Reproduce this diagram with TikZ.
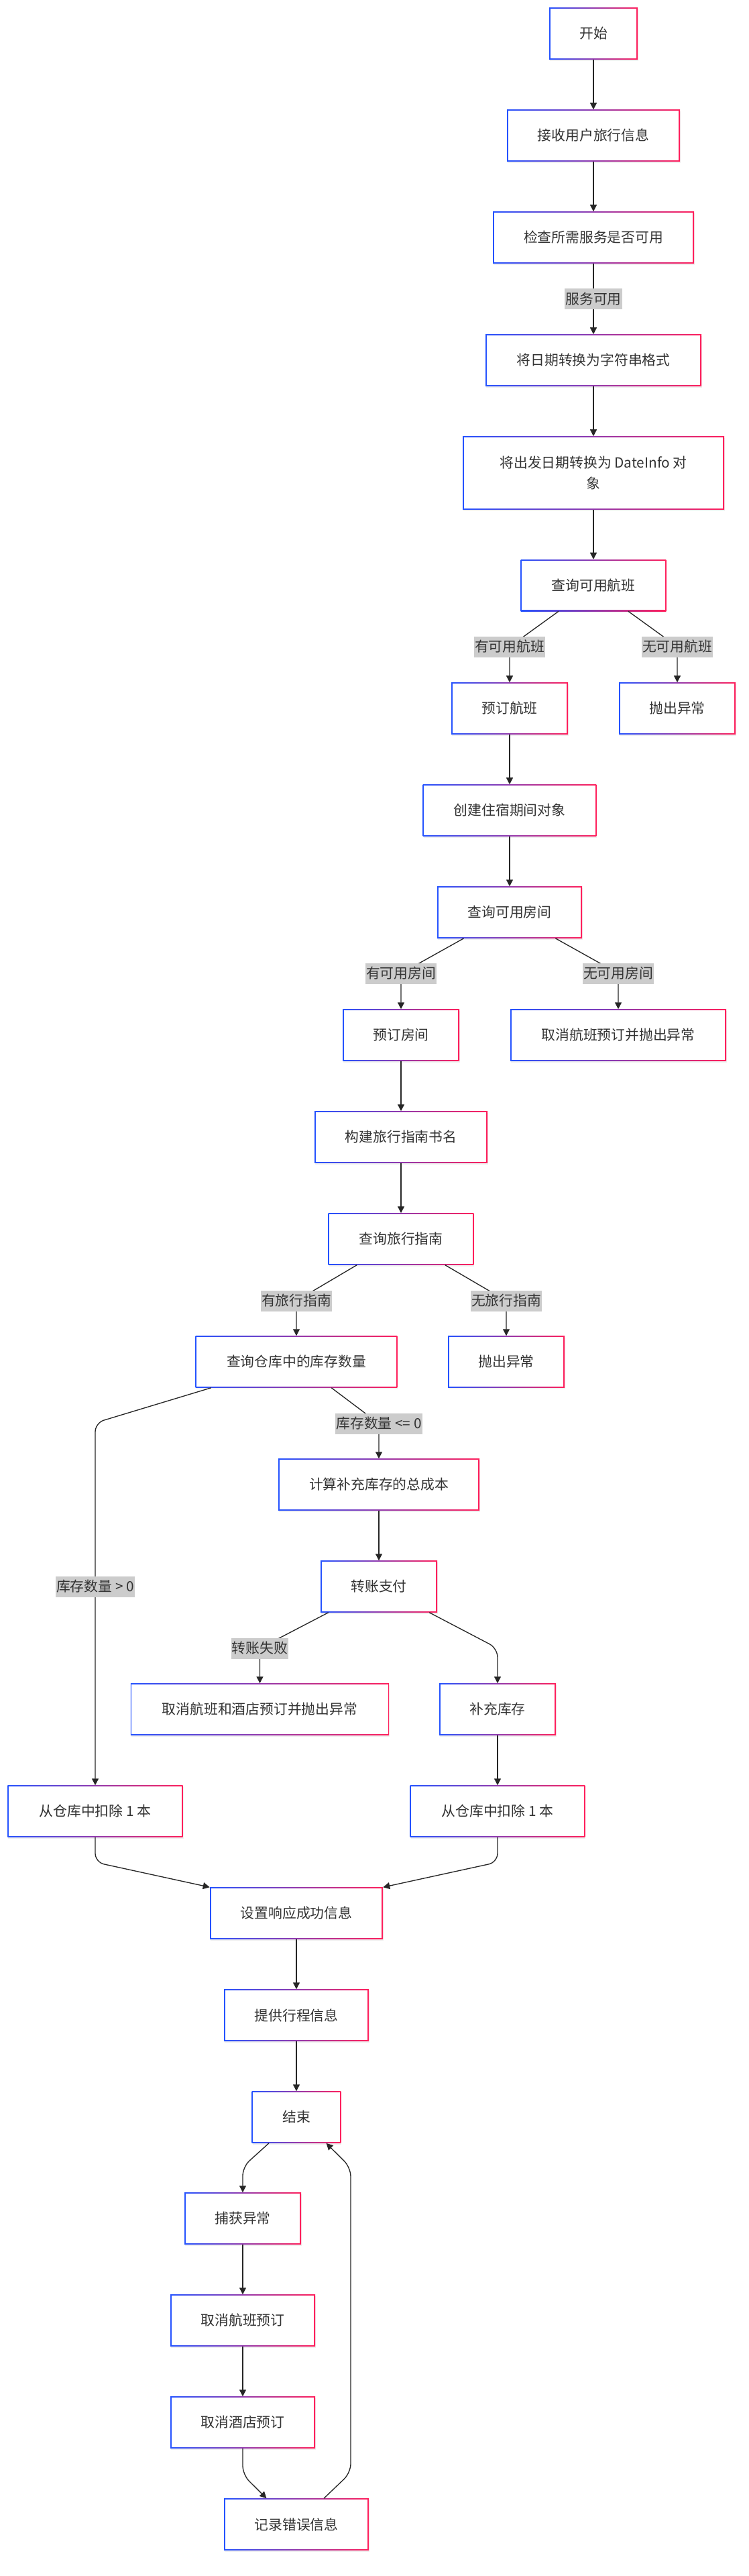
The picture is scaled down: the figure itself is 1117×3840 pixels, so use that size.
\documentclass[tikz,border=0pt]{standalone}
\usepackage{fontspec}
\setmainfont{Noto Sans CJK SC}
\usetikzlibrary{arrows.meta,shadows}
\definecolor{mblue}{HTML}{2452FF}
\definecolor{mred}{HTML}{FF1F5B}
\definecolor{txtgray}{HTML}{333333}
\definecolor{lblgray}{HTML}{CCCCCC}

\begin{document}
\begin{tikzpicture}[x=0.75pt, y=-0.75pt, font=\fontsize{15.6pt}{22.7pt}\selectfont]
    \tikzstyle{stepbox}=[rectangle, inner sep=0pt, minimum height=57.75pt, text=txtgray,
        left color=mblue, right color=mred,
        drop shadow={opacity=0.12, shadow xshift=0.75pt, shadow yshift=-1.5pt},
        path picture={\fill[white] ([shift={(1.2pt,-1.2pt)}]path picture bounding box.north west)
            rectangle ([shift={(-1.2pt,1.2pt)}]path picture bounding box.south east);}]
    \tikzstyle{elabel}=[sharp corners, fill=lblgray, text=txtgray, inner xsep=1pt, inner ysep=0pt, minimum height=23.25pt]
    \tikzstyle{flow}=[draw=black!85, line width=1pt, rounded corners=10pt, -{Triangle[length=7.5pt,width=7.5pt]}]

    \useasboundingbox (0,0) rectangle (1117,3840);

    % 主流程
    \node[stepbox, minimum width=99pt] (start) at (885,50) {开始};
    \node[stepbox, minimum width=193.5pt] (recv) at (885,202) {接收用户旅行信息};
    \node[stepbox, minimum width=225pt] (check) at (885,354) {检查所需服务是否可用};
    \node[stepbox, minimum width=241.5pt] (fmt) at (885,537) {将日期转换为字符串格式};
    \node[stepbox, minimum width=292.5pt, minimum height=81.75pt, align=center] (dinfo) at (885,705) {将出发日期转换为 DateInfo 对\\象};
    \node[stepbox, minimum width=162.5pt] (qflight) at (885,872.5) {查询可用航班};
    \node[stepbox, minimum width=130.5pt] (bookf) at (760,1056) {预订航班};
    \node[stepbox, minimum width=130.5pt] (exca) at (1010,1056) {抛出异常};
    \node[stepbox, minimum width=194pt] (stay) at (760,1208) {创建住宿期间对象};
    \node[stepbox, minimum width=162pt] (qroom) at (760,1360) {查询可用房间};
    \node[stepbox, minimum width=130.5pt] (bookr) at (598,1543) {预订房间};
    \node[stepbox, minimum width=241.5pt] (cancelf) at (922,1543) {取消航班预订并抛出异常};
    \node[stepbox, minimum width=193.5pt] (guide) at (598,1695) {构建旅行指南书名};
    \node[stepbox, minimum width=162.5pt] (qguide) at (598,1847) {查询旅行指南};
    \node[stepbox, minimum width=225.5pt] (qstock) at (442,2030) {查询仓库中的库存数量};
    \node[stepbox, minimum width=130.5pt] (excb) at (755,2030) {抛出异常};
    \node[stepbox, minimum width=225pt] (cost) at (565,2213) {计算补充库存的总成本};
    \node[stepbox, minimum width=130.5pt] (pay) at (565,2365) {转账支付};
    \node[stepbox, minimum width=289pt] (cancelfh) at (387.5,2548) {取消航班和酒店预订并抛出异常};
    \node[stepbox, minimum width=130.5pt] (refill) at (742,2548) {补充库存};
    \node[stepbox, minimum width=196pt] (deductl) at (142,2700) {从仓库中扣除 1 本};
    \node[stepbox, minimum width=195.5pt] (deductr) at (742,2700) {从仓库中扣除 1 本};
    \node[stepbox, minimum width=193.5pt] (succ) at (442,2852) {设置响应成功信息};
    \node[stepbox, minimum width=162pt] (itin) at (442,3004) {提供行程信息};
    \node[stepbox, minimum width=99.4pt] (finish) at (442,3156) {结束};

    % 异常处理
    \node[stepbox, minimum width=130.5pt] (catch) at (362,3307) {捕获异常};
    \node[stepbox, minimum width=162pt] (cancelfl) at (362,3459) {取消航班预订};
    \node[stepbox, minimum width=162pt] (cancelht) at (362,3611) {取消酒店预订};
    \node[stepbox, minimum width=162pt] (log) at (442,3763) {记录错误信息};

    % 连线
    \draw[flow] (start.south) -- (recv.north);
    \draw[flow] (recv.south) -- (check.north);
    \draw[flow] (check.south) -- node[elabel] (lsvc) {服务可用} (fmt.north);
    \draw[flow] (fmt.south) -- (dinfo.north);
    \draw[flow] (dinfo.south) -- (qflight.north);
    \draw[flow] ([xshift=-39pt]qflight.south) -- (760,964) node[elabel] (lfok) {有可用航班} -- (bookf.north);
    \draw[flow] ([xshift=39pt]qflight.south) -- (1010,964) node[elabel] (lfno) {无可用航班} -- (exca.north);
    \draw[flow] (bookf.south) -- (stay.north);
    \draw[flow] (stay.south) -- (qroom.north);
    \draw[flow] ([xshift=-51.3pt]qroom.south) -- (598,1451) node[elabel] (lrok) {有可用房间} -- (bookr.north);
    \draw[flow] ([xshift=51.3pt]qroom.south) -- (922,1451) node[elabel] (lrno) {无可用房间} -- (cancelf.north);
    \draw[flow] (bookr.south) -- (guide.north);
    \draw[flow] (guide.south) -- (qguide.north);
    \draw[flow] ([xshift=-49.4pt]qguide.south) -- (442,1939) node[elabel] (lgok) {有旅行指南} -- (qstock.north);
    \draw[flow] ([xshift=49.4pt]qguide.south) -- (755,1939) node[elabel] (lgno) {无旅行指南} -- (excb.north);
    \draw[flow] ([xshift=39.2pt]qstock.south) -- (565,2122) node[elabel] (lsle) {库存数量 <= 0} -- (cost.north);
    \draw[flow] ([xshift=-95.4pt]qstock.south) -- (142,2121) -- (142,2365) node[elabel] (lsgt) {库存数量 > 0} -- (deductl.north);
    \draw[flow] (cost.south) -- (pay.north);
    \draw[flow] ([xshift=-56.5pt]pay.south) -- (387.5,2457) node[elabel] (lpay) {转账失败} -- (cancelfh.north);
    \draw[flow] ([xshift=56.5pt]pay.south) -- (742,2457) -- (refill.north);
    \draw[flow] (refill.south) -- (deductr.north);
    \draw[flow] (deductl.south) -- (142,2776) -- (succ.north west);
    \draw[flow] (deductr.south) -- (742,2776) -- (succ.north east);
    \draw[flow] (succ.south) -- (itin.north);
    \draw[flow] (itin.south) -- (finish.north);
    \draw[flow] ([xshift=-30.75pt]finish.south) -- (362,3230) -- (catch.north);
    \draw[flow] (catch.south) -- (cancelfl.north);
    \draw[flow] (cancelfl.south) -- (cancelht.north);
    \draw[flow] (cancelht.south) -- (362,3689) -- ([xshift=-33.4pt]log.north);
    \draw[flow] ([xshift=30.75pt]log.north) -- (523,3686) -- (523,3231) -- ([xshift=33.4pt]finish.south);
\end{tikzpicture}
\end{document}
